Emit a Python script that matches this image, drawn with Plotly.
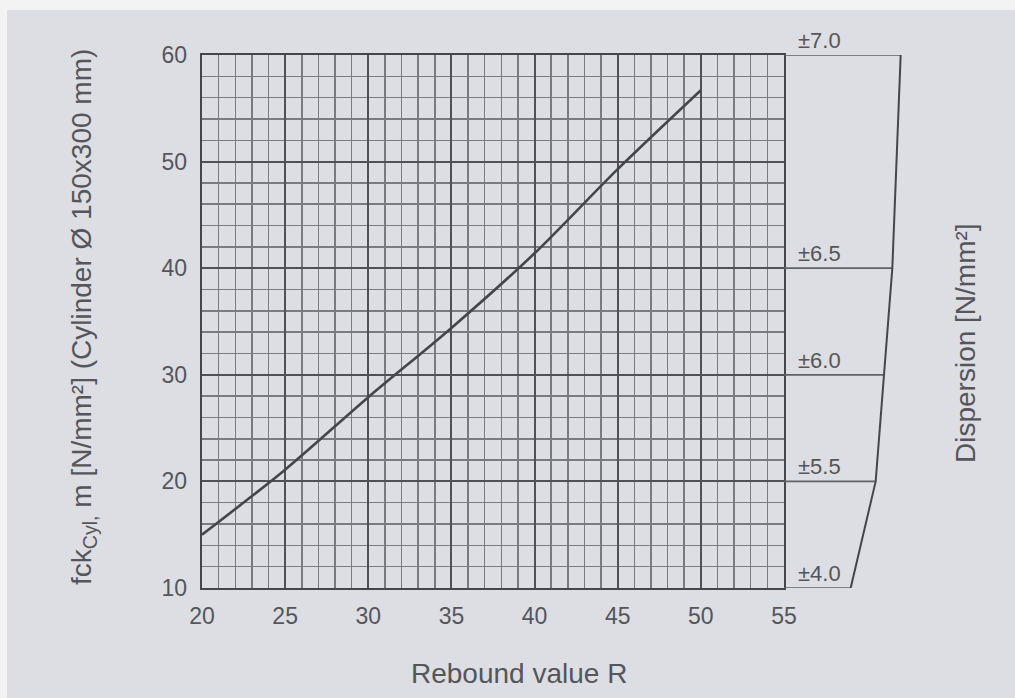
import plotly.graph_objects as go

# ---- data ----
rebound_R = [20, 25, 30, 35, 40, 45, 50]
fck_cyl = [15.0, 21.1, 27.9, 34.4, 41.4, 49.3, 56.7]

x_ticks = [20, 25, 30, 35, 40, 45, 50, 55]
y_ticks = [10, 20, 30, 40, 50, 60]

disp_level_y = [60, 40, 30, 20, 10]
disp_value = [7.0, 6.5, 6.0, 5.5, 4.0]
disp_labels = ["±7.0", "±6.5", "±6.0", "±5.5", "±4.0"]

# ---- style ----
PAPER = "#dcdee3"
INK = "#46464a"
GRID_MAJOR = "#505056"
GRID_MINOR = "#7a7a81"
TEXT = "#55555a"
FONT = "Liberation Sans, Arial, sans-serif"

W, H = 1015, 698
ML, MR, MT, MB = 202, 100, 55, 110
PW = W - ML - MR
PH = H - MT - MB
main_right = 582 / PW

fig = go.Figure()

fig.add_trace(go.Scatter(
    x=rebound_R, y=fck_cyl, mode="lines",
    line=dict(color=INK, width=2.6, shape="spline", smoothing=0.8),
    xaxis="x", yaxis="y", showlegend=False, hoverinfo="skip"))

# dispersion box: horizontal level lines
seg_x, seg_y = [], []
for yv, dv in zip(disp_level_y, disp_value):
    seg_x += [0, dv, None]
    seg_y += [yv, yv, None]
fig.add_trace(go.Scatter(
    x=seg_x, y=seg_y, mode="lines",
    line=dict(color="#606066", width=1.7),
    xaxis="x2", yaxis="y2", showlegend=False, hoverinfo="skip"))
# boundary
fig.add_trace(go.Scatter(
    x=disp_value, y=disp_level_y, mode="lines",
    line=dict(color=INK, width=2),
    xaxis="x2", yaxis="y2", showlegend=False, hoverinfo="skip"))

annotations = []
for yv, lab in zip(disp_level_y, disp_labels):
    annotations.append(dict(
        x=0.7, y=yv, xref="x2", yref="y2", text=lab, showarrow=False,
        xanchor="left", yanchor="bottom",
        font=dict(family=FONT, size=22, color=TEXT)))

def px2paper_x(px):
    return (px - ML) / PW

def px2paper_y(py):
    return 1 - (py - MT) / PH

annotations.append(dict(
    x=px2paper_x(519), y=px2paper_y(673), xref="paper", yref="paper",
    text="Rebound value R", showarrow=False, xanchor="center", yanchor="middle",
    font=dict(family=FONT, size=28, color=TEXT)))
annotations.append(dict(
    x=px2paper_x(83), y=px2paper_y(317), xref="paper", yref="paper",
    text="fck<sub>Cyl,</sub> m [N/mm²] (Cylinder Ø 150x300 mm)", showarrow=False,
    textangle=-90, xanchor="center", yanchor="middle",
    font=dict(family=FONT, size=28, color=TEXT)))
annotations.append(dict(
    x=px2paper_x(965), y=px2paper_y(343), xref="paper", yref="paper",
    text="Dispersion [N/mm²]", showarrow=False,
    textangle=-90, xanchor="center", yanchor="middle",
    font=dict(family=FONT, size=28, color=TEXT)))

shapes = [
    # light scan border top and left
    dict(type="rect", xref="paper", yref="paper",
         x0=px2paper_x(-5), x1=px2paper_x(W + 5), y0=px2paper_y(10), y1=px2paper_y(-5),
         fillcolor="#f3f3f4", line=dict(width=0), layer="below"),
    dict(type="rect", xref="paper", yref="paper",
         x0=px2paper_x(-5), x1=px2paper_x(7), y0=px2paper_y(H + 5), y1=px2paper_y(-5),
         fillcolor="#f3f3f4", line=dict(width=0), layer="below"),
]

fig.update_layout(
    width=W, height=H,
    margin=dict(l=ML, r=MR, t=MT, b=MB, pad=0),
    paper_bgcolor=PAPER, plot_bgcolor=PAPER,
    showlegend=False,
    annotations=annotations,
    shapes=shapes,
    xaxis=dict(
        domain=[0, main_right], range=[20, 55], anchor="y",
        tickmode="array", tickvals=x_ticks, ticks="", ticklabelstandoff=6,
        tickfont=dict(family=FONT, size=23, color=TEXT),
        showgrid=True, gridcolor=GRID_MAJOR, gridwidth=2,
        minor=dict(dtick=1, tick0=20, showgrid=True, gridcolor=GRID_MINOR, gridwidth=1.5),
        showline=True, mirror=True, linecolor=INK, linewidth=2.4,
        zeroline=False, fixedrange=True),
    yaxis=dict(
        domain=[0, 1], range=[10, 60], anchor="x",
        tickmode="array", tickvals=y_ticks, ticks="", ticklabelstandoff=8,
        tickfont=dict(family=FONT, size=23, color=TEXT),
        showgrid=True, gridcolor=GRID_MAJOR, gridwidth=2,
        minor=dict(dtick=2, tick0=10, showgrid=True, gridcolor=GRID_MINOR, gridwidth=1.5),
        showline=True, mirror=True, linecolor=INK, linewidth=2.4,
        zeroline=False, fixedrange=True),
    xaxis2=dict(domain=[main_right, 1], range=[0, 7.86], anchor="y2",
                visible=False, fixedrange=True),
    yaxis2=dict(domain=[0, 1], range=[10, 60], anchor="x2",
                visible=False, fixedrange=True),
)

fig.write_html(
    "out.html",
    config={"displayModeBar": False, "staticPlot": True},
    post_script="document.body.style.margin='0';document.body.style.padding='0';",
)
